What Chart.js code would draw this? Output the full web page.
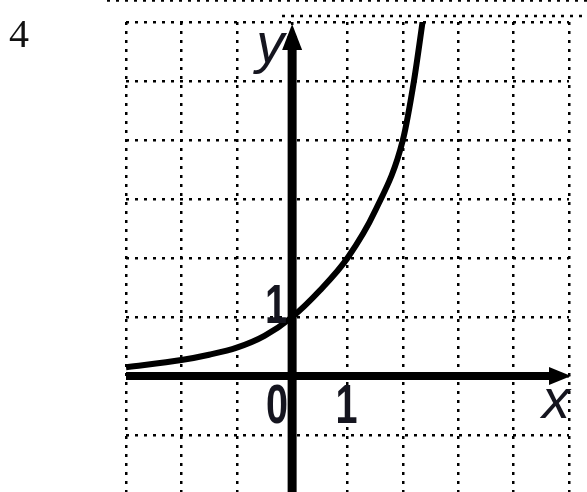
<!DOCTYPE html>
<html>
<head>
<meta charset="utf-8">
<script src="https://cdn.jsdelivr.net/npm/chart.js@4"></script>
<style>
  html, body { margin: 0; padding: 0; background: #fff; overflow: hidden; }
  #wrap { position: absolute; left: 0; top: 0; width: 587px; height: 500px; }
</style>
</head>
<body>
<div id="wrap"><canvas id="graph"></canvas></div>
<script>
// Graph of an exponential curve on a dotted grid

const X_RANGE = [-3, 5];
const Y_RANGE = [-2, 6];

// points
const curveX = [-3, -2, -1.5, -1, -0.5, 0, 0.5, 1, 1.5, 2, 2.2, 2.36];
const curveY = [0.15, 0.27, 0.36, 0.48, 0.68, 1.0, 1.45, 2.0, 2.8, 4.0, 5.0, 6.03];

const xTickValues = [0, 1];
const xTickLabels = ['0', '1'];
const yTickValues = [1];
const yTickLabels = ['1'];

const problemNumber = '4';
const xAxisName = 'x';
const yAxisName = 'y';

const DIGIT_FONT = 'bold 55px "Liberation Sans", Arial, sans-serif';
const NAME_FONT = 'italic 56px "Liberation Sans", Arial, sans-serif';

// squeeze text sideways, the labels in the picture are narrow
function narrowText(ctx, text, x, y) {
  ctx.save();
  ctx.translate(x, y);
  ctx.scale(0.72, 1);
  ctx.fillText(text, 0, 0);
  ctx.restore();
}

const axesPlugin = {
  id: 'axesPlugin',
  beforeDraw(chart) {
    const ctx = chart.ctx;
    // cut-off dotted lines along the top of the page
    ctx.save();
    ctx.strokeStyle = '#000';
    ctx.lineWidth = 2.5;
    ctx.setLineDash([3, 6]);
    ctx.beginPath();
    ctx.moveTo(107, 0.5); ctx.lineTo(587, 0.5);
    ctx.moveTo(282, 16); ctx.lineTo(587, 16);
    ctx.stroke();
    ctx.restore();

    ctx.save();
    ctx.fillStyle = '#111';
    ctx.font = '40px "Liberation Serif", "Times New Roman", serif';
    ctx.textBaseline = 'alphabetic';
    ctx.fillText(problemNumber, 9, 47);
    ctx.restore();
  },
  afterDatasetsDraw(chart) {
    const ctx = chart.ctx;
    const xs = chart.scales.x, ys = chart.scales.y;
    const ox = xs.getPixelForValue(0), oy = ys.getPixelForValue(0);
    const area = chart.chartArea;

    ctx.save();
    ctx.strokeStyle = '#000';
    ctx.fillStyle = '#000';
    ctx.lineCap = 'butt';

    // x axis
    ctx.lineWidth = 8;
    ctx.beginPath();
    ctx.moveTo(area.left, oy);
    ctx.lineTo(area.right - 8, oy);
    ctx.stroke();
    ctx.beginPath();
    ctx.moveTo(area.right + 2, oy);
    ctx.lineTo(area.right - 20, oy - 9);
    ctx.lineTo(area.right - 20, oy + 9);
    ctx.closePath();
    ctx.fill();

    // y axis
    ctx.lineWidth = 9;
    ctx.beginPath();
    ctx.moveTo(ox, chart.height);
    ctx.lineTo(ox, area.top + 14);
    ctx.stroke();
    ctx.beginPath();
    ctx.moveTo(ox, area.top + 2);
    ctx.lineTo(ox - 10, area.top + 28);
    ctx.lineTo(ox + 10, area.top + 28);
    ctx.closePath();
    ctx.fill();

    // tick numbers
    ctx.fillStyle = '#15151f';
    ctx.font = DIGIT_FONT;
    ctx.textBaseline = 'alphabetic';
    ctx.textAlign = 'right';
    xTickValues.forEach((v, i) => {
      const px = xs.getPixelForValue(v);
      narrowText(ctx, xTickLabels[i], v === 0 ? px - 4 : px + 10, oy + 47);
    });
    yTickValues.forEach((v, i) => {
      const py = ys.getPixelForValue(v);
      narrowText(ctx, yTickLabels[i], ox - 5, py + 6);
    });

    // axis names
    ctx.font = NAME_FONT;
    ctx.textAlign = 'center';
    ctx.fillText(xAxisName, area.right - 13, oy + 42);
    ctx.fillText(yAxisName, ox - 22, area.top + 40);
    ctx.restore();
  }
};

const gridOpts = {
  color: '#000',
  lineWidth: 2.5,
  drawTicks: false
};

new Chart(document.getElementById('graph'), {
  type: 'line',
  data: {
    datasets: [{
      data: curveX.map((x, i) => ({ x: x, y: curveY[i] })),
      borderColor: '#000',
      borderWidth: 6,
      pointRadius: 0,
      cubicInterpolationMode: 'monotone',
      fill: false
    }]
  },
  options: {
    responsive: true,
    maintainAspectRatio: false,
    animation: false,
    layout: { padding: { left: 126, right: 18, top: 22, bottom: 6 } },
    plugins: { legend: { display: false }, tooltip: { enabled: false } },
    scales: {
      x: {
        type: 'linear',
        min: X_RANGE[0],
        max: X_RANGE[1],
        ticks: { display: false, stepSize: 1 },
        grid: gridOpts,
        border: { display: false, dash: [3, 6] }
      },
      y: {
        type: 'linear',
        min: Y_RANGE[0],
        max: Y_RANGE[1],
        ticks: { display: false, stepSize: 1 },
        grid: gridOpts,
        border: { display: false, dash: [3, 6] }
      }
    }
  },
  plugins: [axesPlugin]
});
</script>
</body>
</html>
